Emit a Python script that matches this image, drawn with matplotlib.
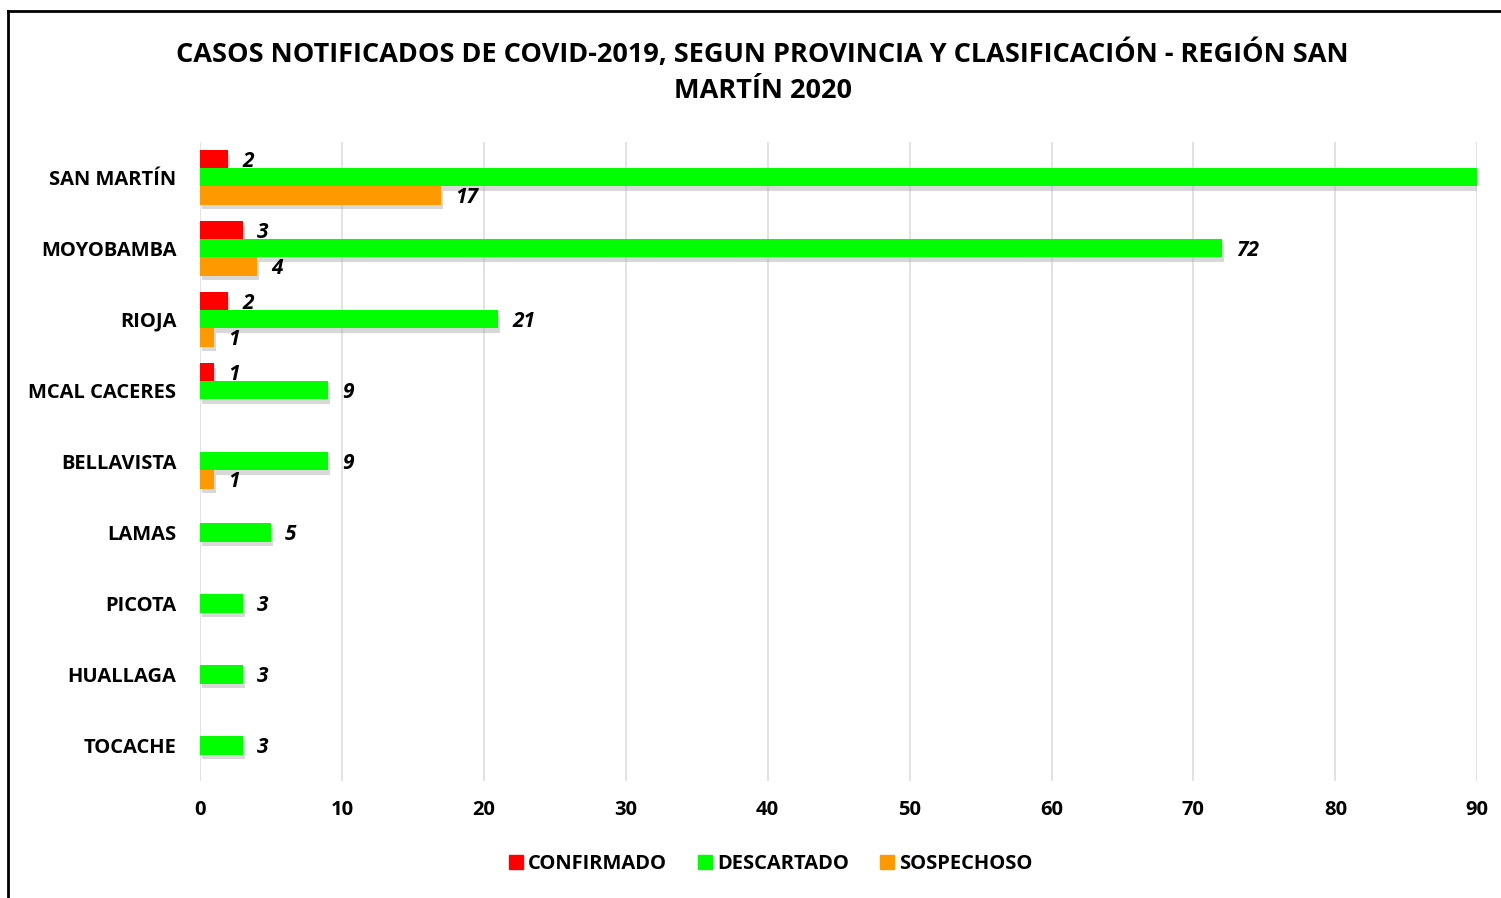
import numpy as np
import matplotlib.pyplot as plt
import matplotlib.patheffects as pe
from matplotlib.lines import Line2D

provincias = ["SAN MARTÍN", "MOYOBAMBA", "RIOJA", "MCAL CACERES", "BELLAVISTA",
              "LAMAS", "PICOTA", "HUALLAGA", "TOCACHE"]
confirmado = [2, 3, 2, 1, 0, 0, 0, 0, 0]
descartado = [95, 72, 21, 9, 9, 5, 3, 3, 3]   # San Martin sale del eje (>90)
sospechoso = [17, 4, 1, 0, 1, 0, 0, 0, 0]

series = [("CONFIRMADO", confirmado, "#ff0000"),
          ("DESCARTADO", descartado, "#00ff00"),
          ("SOSPECHOSO", sospechoso, "#ff9900")]

plt.rcParams['font.family'] = ['Open Sans', 'DejaVu Sans']

fig = plt.figure(figsize=(15.01, 8.98), dpi=100)
ax = fig.add_axes([0.1332, 0.1303, 0.851, 0.7116])

y = np.arange(len(provincias))
h = 0.254
sombra = [pe.SimplePatchShadow(offset=(1.5, -3), shadow_rgbFace='#aaaaaa', alpha=0.45), pe.Normal()]

for k, (nombre, vals, color) in enumerate(series):
    pos = y + (k - 1) * h
    bars = ax.barh(pos, vals, height=h, color=color, label=nombre, zorder=3)
    for b in bars:
        b.set_path_effects(sombra)
    for p, v in zip(pos, vals):
        if v > 0 and v < 90:
            ax.text(v + 1.0, p + 0.03, str(v), va='center', ha='left', fontsize=15,
                    fontweight='bold', fontstyle='italic', zorder=4)

ax.set_xlim(0, 90)
ax.set_ylim(len(provincias) - 0.5, -0.5)
ax.set_xticks(np.arange(0, 91, 10))
ax.set_yticks(y)
ax.set_yticklabels(provincias)
ax.grid(axis='x', color='#d9dde5', linewidth=1.2, zorder=0)
ax.set_axisbelow(True)
for s in ax.spines.values():
    s.set_visible(False)
ax.tick_params(axis='both', length=0, labelsize=14.5)
ax.tick_params(axis='x', pad=14)
ax.tick_params(axis='y', pad=17)
for t in ax.get_xticklabels() + ax.get_yticklabels():
    t.set_fontweight('bold')

fig.text(0.508, 0.920, "CASOS NOTIFICADOS DE COVID-2019, SEGUN PROVINCIA Y CLASIFICACIÓN - REGIÓN SAN\nMARTÍN 2020",
         ha='center', va='center', fontsize=19.5, fontweight='bold', linespacing=1.5)

handles = [Line2D([], [], marker='s', linestyle='', markersize=10, color=c) for _, _, c in series]
fig.legend(handles, [n for n, _, _ in series], loc='center', bbox_to_anchor=(0.511, 0.038),
           ncol=3, frameon=False, handletextpad=-0.1, columnspacing=1.2, handlelength=1.4,
           prop={'weight': 'bold', 'size': 14.5})

# marco del grafico
fig.add_artist(Line2D([0.0053, 0.0053], [0, 0.9878], color='black', linewidth=2, transform=fig.transFigure))
fig.add_artist(Line2D([0.0053, 1.0], [0.9878, 0.9878], color='black', linewidth=2, transform=fig.transFigure))

fig.savefig("out.png", dpi=100)
